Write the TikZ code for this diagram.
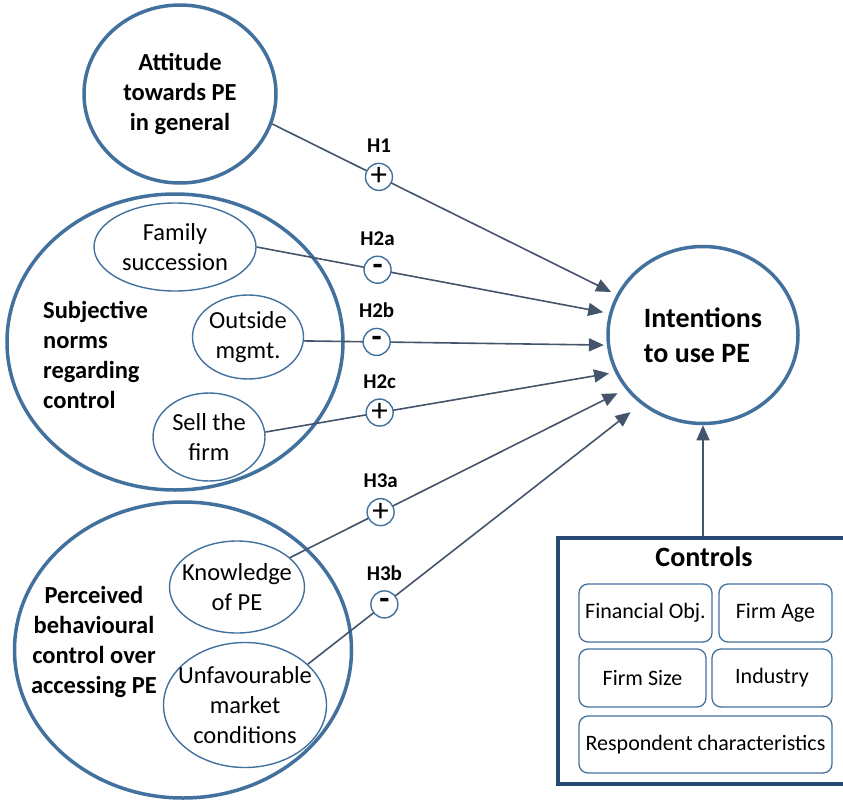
\documentclass[tikz,border=0pt]{standalone}
\usepackage{fontspec}
\setmainfont{Carlito}
\usetikzlibrary{positioning}
\usetikzlibrary{arrows.meta,shapes.geometric}
\definecolor{ringblue}{RGB}{66,113,158}
\definecolor{arrowgrey}{RGB}{68,84,106}
\definecolor{boxnavy}{RGB}{37,73,114}

\begin{document}
\begin{tikzpicture}[x=1pt,y=-1pt,
  big/.style={ellipse, draw=ringblue, line width=3.5pt, inner sep=0pt},
  item/.style={ellipse, draw=ringblue, line width=1.4pt, inner sep=0pt},
  txt/.style={align=center, inner sep=0pt, font=\fontsize{24.5}{30}\selectfont},
  head/.style={align=center, inner sep=0pt, font=\fontsize{24.5}{30}\selectfont\bfseries},
  sgn/.style={circle, draw=ringblue, fill=white, line width=1.4pt, minimum size=27pt,
    inner sep=0pt, font=\fontsize{33}{33}\selectfont},
  hyp/.style={inner sep=1pt, yshift=8pt, font=\fontsize{21}{21}\selectfont\bfseries},
  link/.style={draw=arrowgrey, line width=1.6pt, -{Triangle[length=15pt,width=13pt]}, shorten >=6pt},
  ctrl/.style={rectangle, rounded corners=9pt, draw=ringblue, line width=1.3pt, inner sep=0pt,
    minimum height=58pt, font=\fontsize{22}{26}\selectfont}]
\useasboundingbox (0,0) rectangle (843,800);

\node[big, head, minimum width=192pt, minimum height=178pt] (att) at (180,94) {
  Attitude\\towards PE\\in general
};

\node[big, minimum width=336pt, minimum height=296pt] (sn) at (175,342) {};
\node[head, align=left, anchor=west] (snt) at (43,355) {
  Subjective\\norms\\regarding\\control
};
\node[item, minimum width=162pt, minimum height=88pt,
  label={[txt]center:Family\\succession}] (fam) at (175,247) {};
\node[item, minimum width=111pt, minimum height=84pt,
  label={[txt]center:Outside\\mgmt.}] (out) at (248,337) {};
\node[item, minimum width=112pt, minimum height=88pt,
  label={[txt]center:Sell the\\firm}] (sell) at (209,437) {};

\node[big, minimum width=337pt, minimum height=296pt] (pbc) at (183,650) {};
\node[head] (pbct) at (94,642) {
  Perceived\\behavioural\\control over\\accessing PE
};
\node[item, minimum width=135pt, minimum height=92pt,
  label={[txt]center:Knowledge\\of PE}] (know) at (237,587) {};
\node[item, minimum width=163pt, minimum height=125pt,
  label={[txt]center:Unfavourable\\market\\conditions}] (unf) at (245,705) {};

\node[big, align=left, minimum width=190pt, minimum height=177pt,
  font=\fontsize{28}{35}\selectfont\bfseries] (int) at (703,335) {
  Intentions\\to use PE
};

% controls
\node[draw=boxnavy, line width=3.5pt, minimum width=288pt, minimum height=246pt,
  inner sep=0pt] (ctl) at (702,661) {};
\node[inner sep=0pt, font=\fontsize{28}{34}\selectfont\bfseries] (ctlt) at (704,557) {Controls};
\node[ctrl, minimum width=133pt] (fin) at (645.5,613) {Financial Obj.};
\node[ctrl, minimum width=113pt] (age) at (775.5,613) {Firm Age};
\node[ctrl, minimum width=127pt] (size) at (642.5,678) {Firm Size};
\node[ctrl, minimum width=120pt] (ind) at (772,678) {Industry};
\node[ctrl, minimum width=253pt, minimum height=57pt] (resp) at (705.5,744.5) {Respondent characteristics};

\draw (att.-18) edge[link] node[sgn, pos=.31, label={[hyp]above:H1}] {+} (int.155)
      (fam.east) edge[link] node[sgn, pos=.343, label={[hyp]above:H2a}] {\textbf{-}} (int.167)
      (out.-4) edge[link, shorten >=3pt] node[sgn, pos=.24, label={[hyp]above:H2b}] {\textbf{-}} (int.186)
      (sell.5) edge[link] node[sgn, pos=.327, label={[hyp]above:H2c}] {+} (int.203)
      (know.29) edge[link, shorten >=9pt] node[sgn, pos=.27, label={[hyp]above:H3a}] {+} (int.215)
      (unf.33) edge[link, shorten >=13pt] node[sgn, pos=.23, label={[hyp]above:H3b}] {\textbf{-}} (int.228)
      (int.south |- ctl.north) edge[link, shorten >=0pt] (int.south);
\end{tikzpicture}
\end{document}
